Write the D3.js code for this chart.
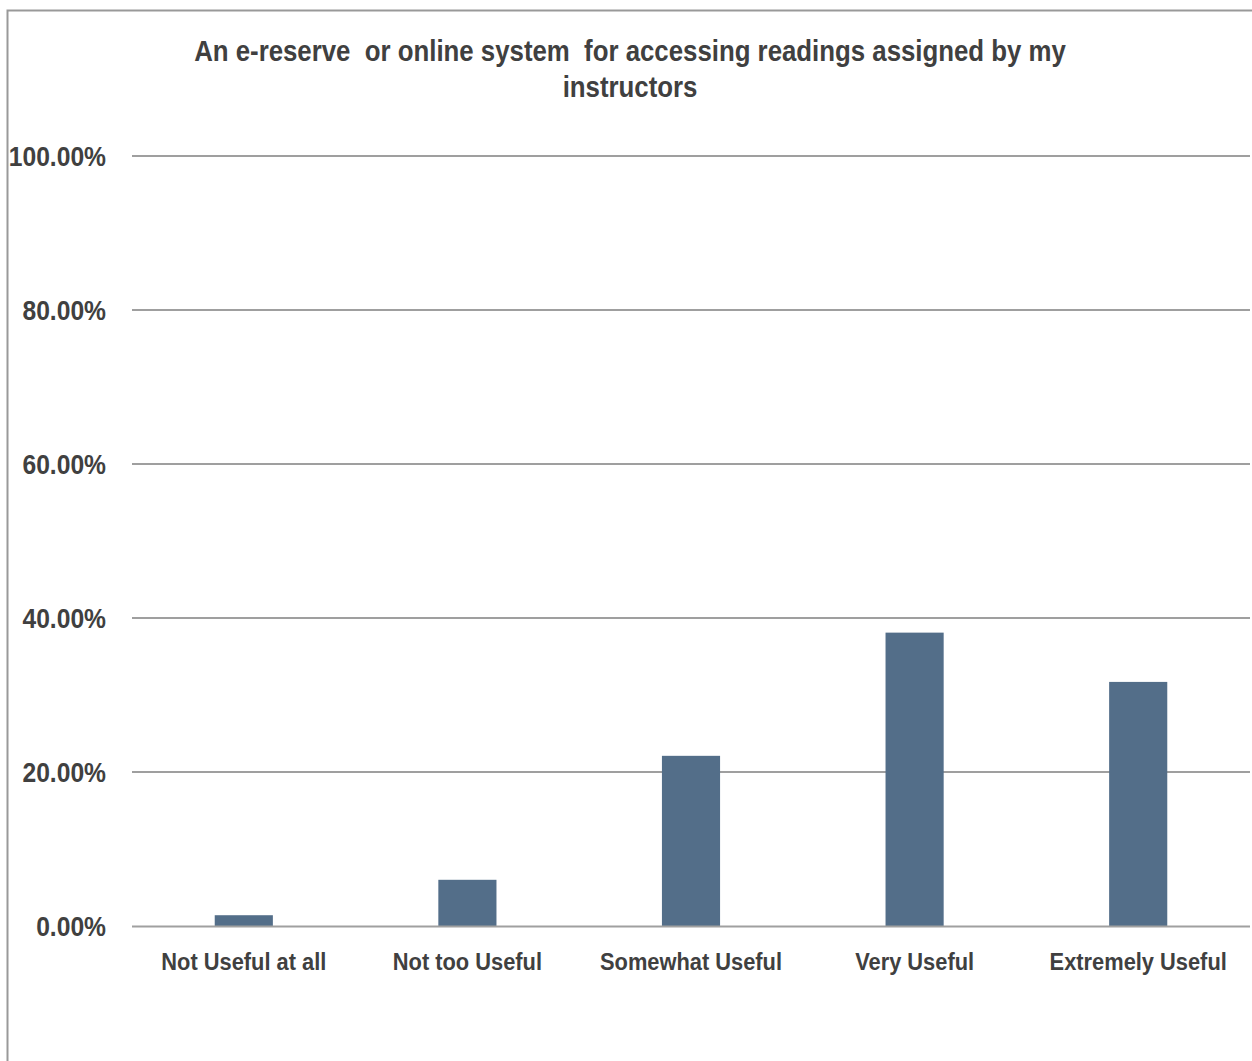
<!DOCTYPE html>
<html><head><meta charset="utf-8">
<script src="https://cdn.jsdelivr.net/npm/d3@7/dist/d3.min.js"></script>
<style>body{margin:0;background:#fff;}svg{display:block;}</style>
</head><body>
<script>
const categories = ["Not Useful at all","Not too Useful","Somewhat Useful","Very Useful","Extremely Useful"];
const values = [0.014, 0.060, 0.221, 0.381, 0.317];
const yTicks = [0, 0.2, 0.4, 0.6, 0.8, 1.0];
const titleLines = ["An e-reserve  or online system  for accessing readings assigned by my", "instructors"];

(function(){
const W = 1252, H = 1061;
const svg = d3.select("body").append("svg").attr("width", W).attr("height", H);
const font = "'Liberation Sans','Arial',sans-serif";

svg.append("rect").attr("x", 7.5).attr("y", 10.5).attr("width", W + 20).attr("height", H + 20)
  .attr("fill", "#fff").attr("stroke", "#999").attr("stroke-width", 2);

const pL = 132, pR = 1250, pT = 156, pB = 926;
const x = d3.scaleBand().domain(categories).range([pL, pR]).paddingInner(0.74).paddingOuter(0.37);
const y = d3.scaleLinear().domain([0, 1]).range([pB, pT]);

svg.append("g").selectAll("line").data(yTicks.filter(d => d > 0)).join("line")
  .attr("x1", pL).attr("x2", pR).attr("y1", d => y(d)).attr("y2", d => y(d))
  .attr("stroke", "#7f7f7f").attr("stroke-width", 1.5);

svg.append("g").selectAll("rect").data(values).join("rect")
  .attr("x", (d, i) => x(categories[i])).attr("width", x.bandwidth())
  .attr("y", d => y(d)).attr("height", d => y(0) - y(d)).attr("fill", "#536e89");

svg.append("line").attr("x1", pL).attr("x2", pR).attr("y1", y(0) + 0.5).attr("y2", y(0) + 0.5)
  .attr("stroke", "#a0a0a0").attr("stroke-width", 2);

// y labels (condensed)
svg.append("g").selectAll("g").data(yTicks).join("g")
  .attr("transform", d => `translate(106,${y(d)}) scale(0.88,1)`)
  .append("text").attr("dy", "0.36em").attr("text-anchor", "end")
  .attr("font-family", font).attr("font-weight", "bold").attr("font-size", 28).attr("fill", "#404040")
  .text(d => d3.format(".2%")(d));

// x labels
svg.append("g").selectAll("g").data(categories).join("g")
  .attr("transform", d => `translate(${x(d) + x.bandwidth() / 2},961) scale(0.91,1)`)
  .append("text").attr("dy", "0.36em").attr("text-anchor", "middle")
  .attr("font-family", font).attr("font-weight", "bold").attr("font-size", 24).attr("fill", "#404040")
  .text(d => d);

// title
svg.append("g").selectAll("g").data(titleLines).join("g")
  .attr("transform", (d, i) => `translate(630,${61 + i * 36}) scale(0.89,1)`)
  .append("text").attr("text-anchor", "middle")
  .attr("font-family", font).attr("font-weight", "bold").attr("font-size", 29).attr("fill", "#404040")
  .style("white-space", "pre")
  .text(d => d);
})();
</script>
</body></html>
